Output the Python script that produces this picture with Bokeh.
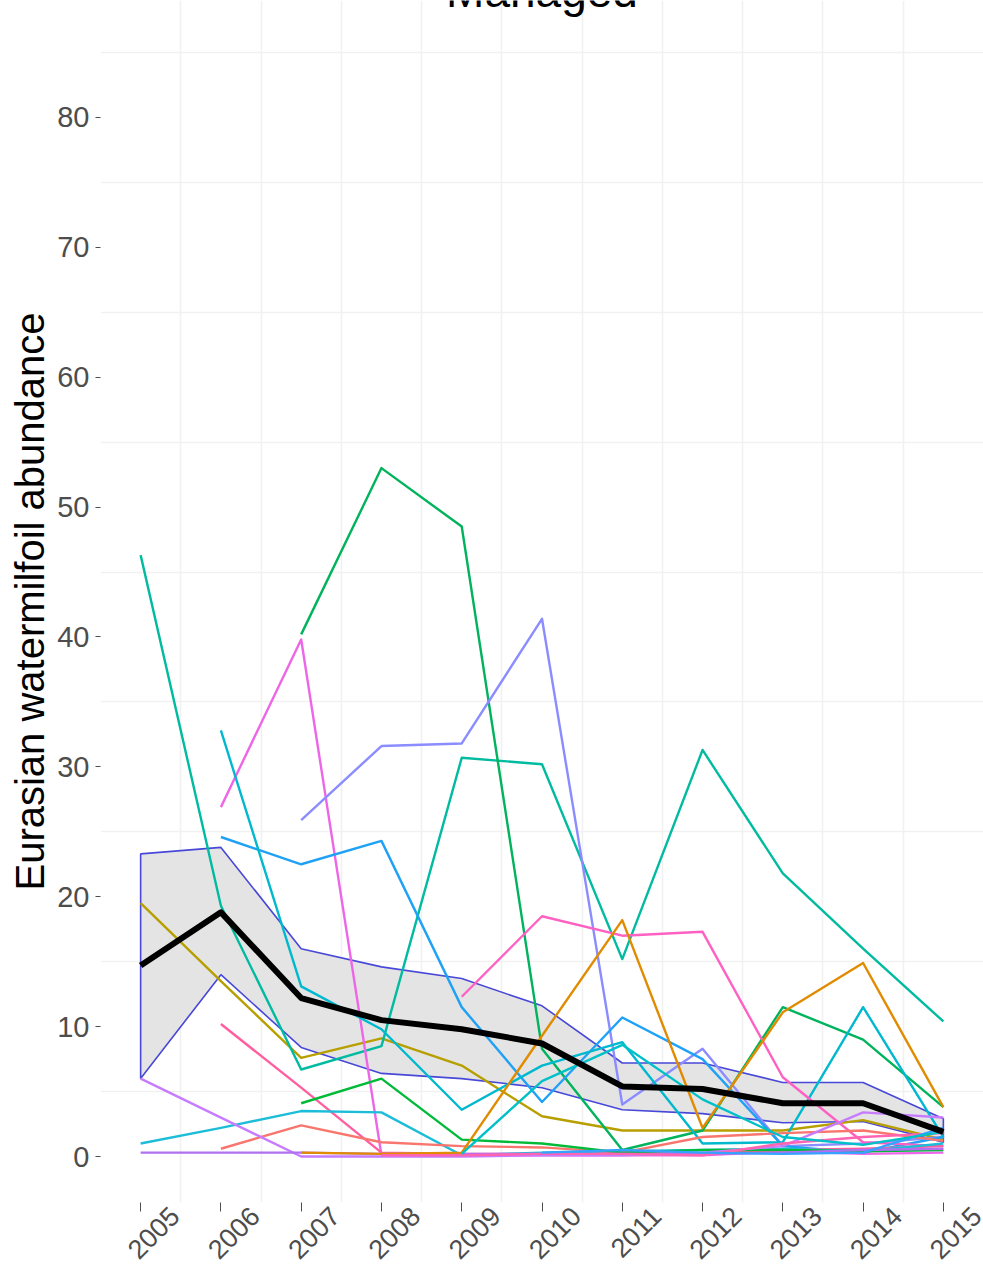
import math

from bokeh.core.properties import value
from bokeh.embed import file_html
from bokeh.models import FixedTicker, LinearAxis, Range1d
from bokeh.plotting import figure
from bokeh.resources import INLINE

nan = float("nan")

# survey years
years = [2005, 2006, 2007, 2008, 2009, 2010, 2011, 2012, 2013, 2014, 2015]

# Eurasian watermilfoil abundance per managed lake (nan = not surveyed)
lake_01 = [19.5, 13.5, 7.6, 9.1, 7.0, 3.1, 2.0, 2.0, 2.0, 2.8, 1.3]
lake_02 = [46.3, 19.3, 6.7, 8.5, 30.7, 30.2, 15.2, 31.3, 21.8, 16.0, 10.4]
lake_03 = [nan, nan, 40.2, 53.0, 48.5, 8.3, 0.5, 2.0, 11.5, 9.0, 3.8]
lake_04 = [nan, 26.9, 39.8, 0.1, 0.1, 0.1, 0.1, 0.1, 0.4, 0.2, 0.3]
lake_05 = [nan, nan, 25.9, 31.6, 31.8, 41.4, 4.0, 8.3, 0.8, 1.0, 1.5]
lake_06 = [nan, 24.6, 22.5, 24.3, 11.5, 4.2, 10.7, 7.5, 0.8, 0.3, 1.5]
lake_07 = [nan, 32.8, 13.1, 9.8, 3.6, 7.0, 8.8, 1.0, 1.1, 11.5, 1.5]
lake_08 = [nan, nan, nan, nan, 12.3, 18.5, 17.0, 17.3, 6.1, 1.1, 0.8]
lake_09 = [nan, 10.2, 5.3, 0.3, 0.2, 0.2, 0.3, 0.2, 0.5, 0.6, 0.8]
lake_10 = [1.0, 2.2, 3.5, 3.4, 0.1, 0.3, 0.4, 0.5, 0.6, 0.4, 1.0]
lake_11 = [nan, 0.6, 2.4, 1.1, 0.8, 0.7, 0.3, 1.5, 1.8, 2.0, 1.2]
lake_12 = [nan, nan, 4.1, 6.0, 1.3, 1.0, 0.3, 0.5, 0.5, 0.4, 0.5]
lake_13 = [6.0, 3.0, 0.0, 0.0, 0.0, 0.1, 0.1, 0.3, 0.8, 3.4, 3.0]
lake_14 = [0.3, 0.3, 0.3, 0.2, 0.2, 0.2, 0.2, 0.2, 0.3, 0.5, 0.6]
lake_15 = [nan, nan, 0.3, 0.2, 0.3, 9.3, 18.2, 2.2, 11.1, 14.9, 3.8]
lake_16 = [nan, nan, nan, 0.1, 0.1, 0.2, 0.2, 0.1, 1.0, 1.5, 1.8]
lake_17 = [nan, nan, nan, nan, nan, 0.3, 0.5, 0.3, 0.2, 0.3, 2.2]
lake_18 = [nan, nan, nan, nan, 0.2, 5.8, 8.6, 4.4, 1.5, 0.9, 1.9]

lakes = [lake_01, lake_02, lake_03, lake_04, lake_05, lake_06, lake_07, lake_08,
         lake_09, lake_10, lake_11, lake_12, lake_13, lake_14, lake_15, lake_16,
         lake_17, lake_18]
lake_colors = ["#B79F00", "#00BBA0", "#00B35C", "#EE66E8", "#8A8CFF", "#1FA2F5",
               "#00B9CE", "#FF61C3", "#FF5FA0", "#1CBDD8", "#F8766D", "#00BA38",
               "#C77CFF", "#B070F0", "#E08B00", "#FF64B0", "#35A2FF", "#00C1C8"]

# yearly mean across lakes with its confidence band
mean_abund = [14.7, 18.8, 12.2, 10.5, 9.8, 8.7, 5.4, 5.2, 4.1, 4.1, 1.9]
band_upper = [23.3, 23.8, 16.0, 14.6, 13.7, 11.6, 7.2, 7.2, 5.7, 5.7, 2.9]
band_lower = [6.0, 14.0, 8.4, 6.4, 6.0, 5.3, 3.6, 3.3, 2.6, 2.7, 1.1]

y_ticks = [0, 10, 20, 30, 40, 50, 60, 70, 80]

FONT = "Liberation Sans"
X_LO, X_HI = 2004.5, 2015.5
LABEL_SHIFT = 0.424  # years: slides the slanted year labels under their ticks

p = figure(
    width=983, height=1270,
    output_backend="svg", toolbar_location=None,
    x_range=Range1d(X_LO, X_HI), y_range=Range1d(-3.54, 89.0),
    min_border_left=100, min_border_right=0,
    min_border_top=0, min_border_bottom=67,
)
p.outline_line_color = None
p.background_fill_color = "white"
p.border_fill_color = "white"

# grid sits between the labelled positions
p.xgrid.ticker = FixedTicker(ticks=[X_LO + i for i in range(12)])
p.ygrid.ticker = FixedTicker(ticks=[5 + 10 * i for i in range(9)])
p.grid.grid_line_color = "#f1f1f1"
p.grid.grid_line_width = 1.6

p.xaxis.ticker = FixedTicker(ticks=years)
p.yaxis.ticker = FixedTicker(ticks=y_ticks)
for ax in (p.xaxis, p.yaxis):
    ax.axis_line_color = None
    ax.major_tick_line_color = "#4d4d4d"
    ax.major_tick_line_width = 1
    ax.major_tick_in = 0
    ax.minor_tick_line_color = None
    ax.major_label_text_font = FONT
    ax.major_label_text_color = "#4d4d4d"

p.yaxis.major_tick_out = 5
p.yaxis.major_label_text_font_size = "29px"
p.yaxis.major_label_standoff = 6
p.yaxis.axis_label = "Eurasian watermilfoil abundance"
p.yaxis.axis_label_text_font = FONT
p.yaxis.axis_label_text_font_size = "40px"
p.yaxis.axis_label_text_font_style = "normal"
p.yaxis.axis_label_text_color = "black"
p.yaxis.axis_label_standoff = 2

# bottom axis: tick marks only
p.xaxis.major_tick_out = 9
p.xaxis.major_label_standoff = 0
p.xaxis.major_label_text_font_size = "1px"
p.xaxis.major_label_overrides = {yr: "" for yr in years}

# second bottom axis carrying the slanted year labels
p.extra_x_ranges = {"labels": Range1d(X_LO - LABEL_SHIFT, X_HI - LABEL_SHIFT)}
year_axis = LinearAxis(x_range_name="labels", ticker=FixedTicker(ticks=years))
year_axis.axis_line_color = None
year_axis.major_tick_line_color = None
year_axis.minor_tick_line_color = None
year_axis.major_tick_in = 0
year_axis.major_tick_out = 0
year_axis.major_label_standoff = 0
year_axis.major_label_orientation = math.pi / 4
year_axis.major_label_text_font = FONT
year_axis.major_label_text_font_size = "27px"
year_axis.major_label_text_color = "#4d4d4d"
p.add_layout(year_axis, "below")

# confidence band around the mean
p.patch(years + years[::-1], band_upper + band_lower[::-1],
        fill_color="#e4e4e4", line_color="#4848D8", line_width=1.6)

# individual lakes
for vals, col in zip(lakes, lake_colors):
    p.line(years, vals, line_color=col, line_width=2.4, line_join="round")

# mean trajectory
p.line(years, mean_abund, line_color="black", line_width=6, line_join="round")

# panel title, sitting at the very top edge
p.text(x=[2010], y=[88.23], text=["Managed"], text_font=value(FONT),
       text_font_size="46px", text_align="center", y_offset=-20,
       text_baseline="alphabetic", text_color="black")

open("out.html", "w").write(file_html(p, INLINE))
